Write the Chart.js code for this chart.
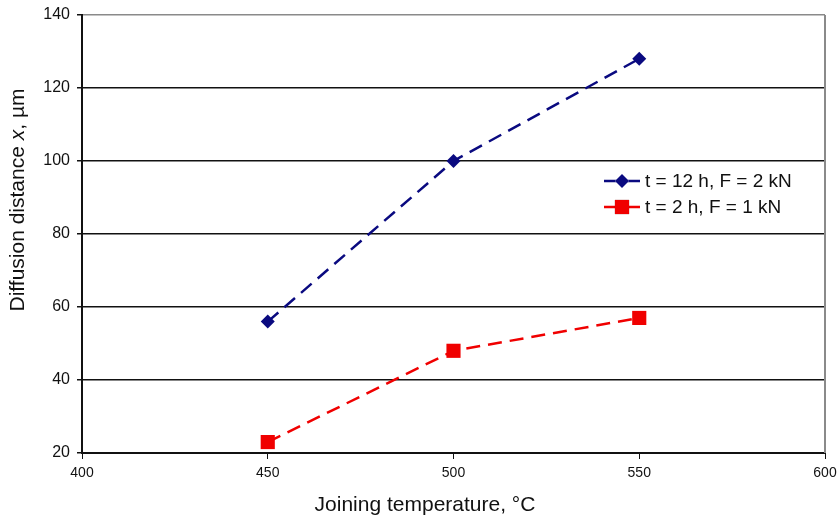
<!DOCTYPE html>
<html>
<head>
<meta charset="utf-8">
<script src="https://cdn.jsdelivr.net/npm/chart.js@4/dist/chart.umd.min.js"></script>
<style>
  html, body { margin: 0; padding: 0; background: #fff; }
  #wrap { position: relative; width: 838px; height: 521px; }
</style>
</head>
<body>
<div id="wrap"><canvas id="c"></canvas></div>
<script>
const temps = [450, 500, 550];
const longRun = [56, 100, 128];   // t = 12 h, F = 2 kN
const shortRun = [23, 48, 57];    // t = 2 h, F = 1 kN
const seriesNames = ['t = 12 h, F = 2 kN', 't = 2 h, F = 1 kN'];
const xTicks = [400, 450, 500, 550, 600];
const yTicks = [20, 40, 60, 80, 100, 120, 140];

const FONT = '"Liberation Sans", Arial, sans-serif';

// legend + axis titles drawn by hand (italic x in the y title)
const extras = {
    id: 'extras',
    afterDraw(chart) {
        const { ctx, chartArea } = chart;
        ctx.save();
        // right border of plot
        ctx.strokeStyle = '#8a8a8a';
        ctx.lineWidth = 2;
        ctx.beginPath();
        ctx.moveTo(chartArea.right, chartArea.top);
        ctx.lineTo(chartArea.right, chartArea.bottom);
        ctx.stroke();

        // legend
        const lx = 590, ly = 168;
        ctx.fillStyle = '#fff';
        ctx.fillRect(lx, ly, 215, 52);
        ctx.font = '19px ' + FONT;
        ctx.textBaseline = 'middle';
        chart.data.datasets.forEach((ds, i) => {
            const y = ly + 13 + i * 26;
            ctx.strokeStyle = ds.borderColor;
            ctx.lineWidth = 2.5;
            ctx.setLineDash([]);
            ctx.beginPath();
            ctx.moveTo(lx + 14, y);
            ctx.lineTo(lx + 50, y);
            ctx.stroke();
            Chart.helpers.drawPoint(ctx, {
                pointStyle: ds.pointStyle, radius: ds.pointRadius, rotation: 0, borderWidth: 0
            }, lx + 32, y);
            ctx.fillStyle = ds.borderColor;
            ctx.fill();
            ctx.fillStyle = '#111';
            ctx.fillText(ds.label, lx + 55, y + 1);
        });

        // x title
        ctx.fillStyle = '#111';
        ctx.textAlign = 'center';
        ctx.font = '21px ' + FONT;
        ctx.fillText('Joining temperature, °C', 425, 505);

        // y title
        ctx.translate(18, 200);
        ctx.rotate(-Math.PI / 2);
        const parts = [['Diffusion distance ', 'normal'], ['x', 'italic'], [', µm', 'normal']];
        let total = 0;
        parts.forEach(p => { ctx.font = p[1] + ' 21px ' + FONT; total += ctx.measureText(p[0]).width; });
        let x = -total / 2;
        ctx.textAlign = 'left';
        parts.forEach(p => {
            ctx.font = p[1] + ' 21px ' + FONT;
            ctx.fillText(p[0], x, 0);
            x += ctx.measureText(p[0]).width;
        });
        ctx.restore();
    }
};

new Chart(document.getElementById('c'), {
    type: 'line',
    data: {
        labels: temps,
        datasets: [
            {
                label: seriesNames[0],
                data: temps.map((t, i) => ({ x: t, y: longRun[i] })),
                borderColor: '#0a0a80',
                backgroundColor: '#0a0a80',
                borderWidth: 2.5,
                borderDash: [14, 8],
                pointStyle: 'rectRot',
                pointRadius: 7,
                pointBorderWidth: 0,
                tension: 0
            },
            {
                label: seriesNames[1],
                data: temps.map((t, i) => ({ x: t, y: shortRun[i] })),
                borderColor: '#f00000',
                backgroundColor: '#f00000',
                borderWidth: 2.5,
                borderDash: [14, 8],
                pointStyle: 'rect',
                pointRadius: 10,
                pointBorderWidth: 0,
                tension: 0
            }
        ]
    },
    options: {
        responsive: true,
        maintainAspectRatio: false,
        animation: false,
        layout: { padding: { top: 15, right: 13, left: 0, bottom: 0 } },
        plugins: {
            legend: { display: false },
            tooltip: { enabled: false }
        },
        scales: {
            x: {
                type: 'linear',
                min: 400,
                max: 600,
                afterBuildTicks: s => { s.ticks = xTicks.map(v => ({ value: v })); },
                afterFit: s => { s.height = 68; s.paddingLeft = 0; s.paddingRight = 0; },
                border: { color: '#111', width: 2 },
                grid: {
                    drawOnChartArea: false,
                    tickLength: 6,
                    tickColor: '#111'
                },
                ticks: {
                    color: '#111',
                    padding: 6,
                    font: { family: FONT, size: 14 }
                }
            },
            y: {
                min: 20,
                max: 140,
                afterBuildTicks: s => { s.ticks = yTicks.map(v => ({ value: v })); },
                afterFit: s => { s.width = 82; s.paddingTop = 0; s.paddingBottom = 0; },
                border: { color: '#111', width: 2 },
                grid: {
                    color: ctx => ctx.tick && ctx.tick.value === 140 ? '#8a8a8a' : '#111',
                    lineWidth: 1.5,
                    tickLength: 5,
                    tickColor: '#111'
                },
                ticks: {
                    color: '#111',
                    padding: 7,
                    font: { family: FONT, size: 16 }
                }
            }
        }
    },
    plugins: [extras]
});
</script>
</body>
</html>
